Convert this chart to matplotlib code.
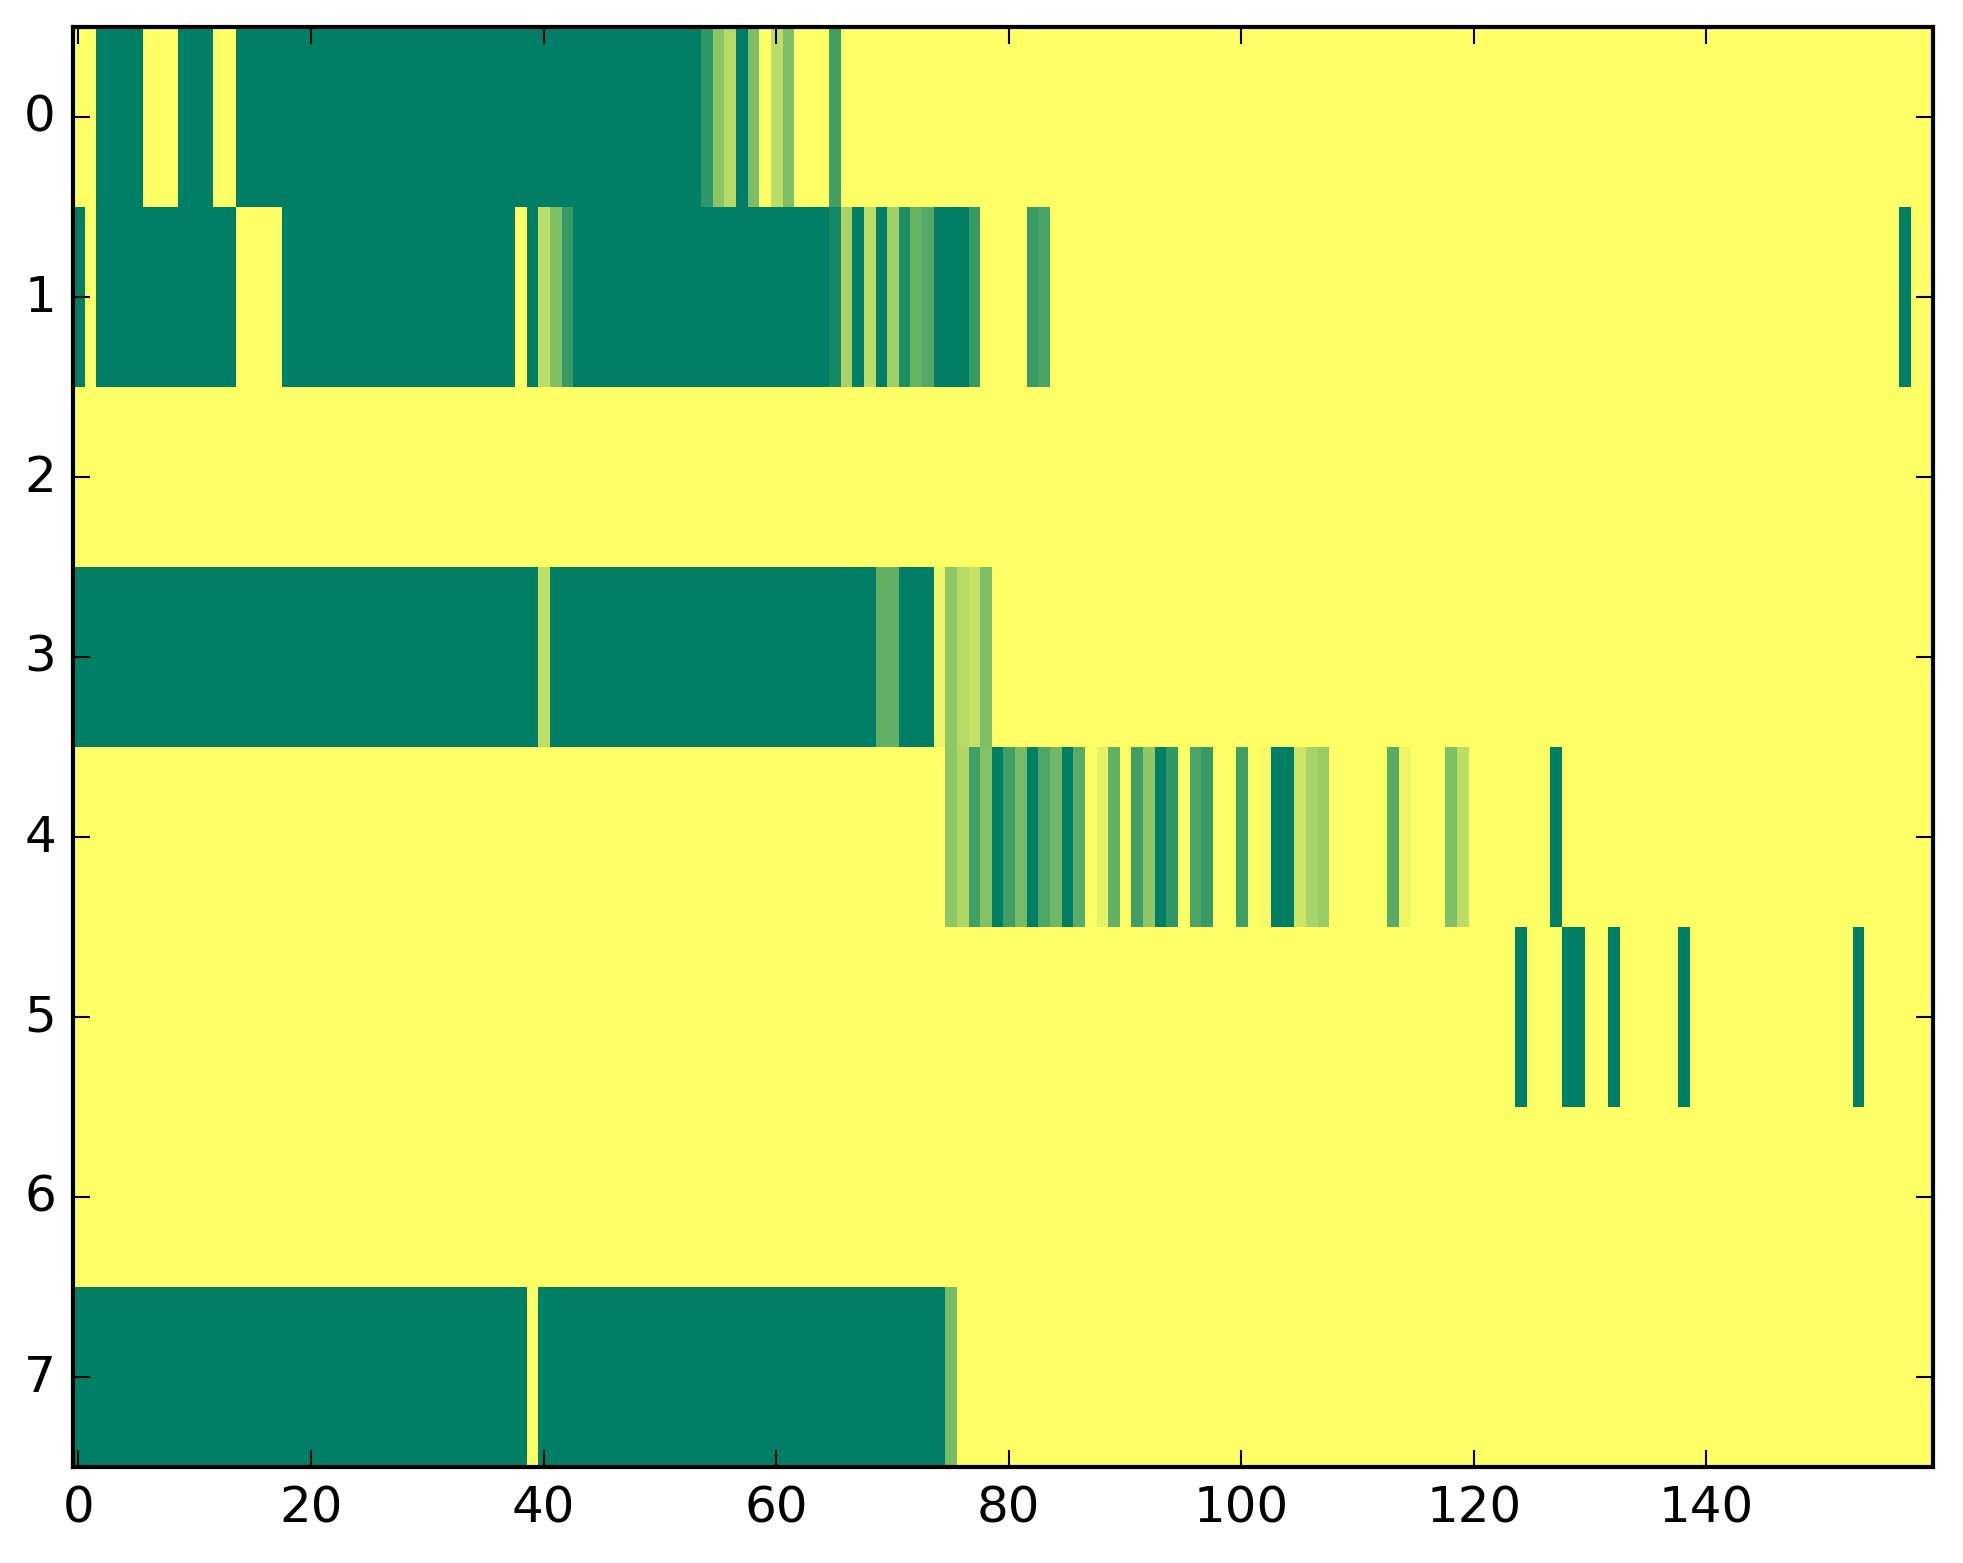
import numpy as np
import matplotlib
matplotlib.use("Agg")
import matplotlib.pyplot as plt

plt.style.use('classic')
plt.rcParams['font.size'] = 12

ncols = 160
# each row: runs of (start, stop, value), everything else is 0
row0 = [(2, 6, 1.0), (9, 12, 1.0), (14, 54, 1.0), (54, 55, 0.81), (55, 56, 0.45),
        (56, 57, 0.29), (57, 58, 1.0), (58, 59, 0.51), (60, 61, 0.26), (61, 62, 0.5),
        (65, 66, 0.75)]
row1 = [(0, 1, 1.0), (2, 14, 1.0), (18, 38, 1.0), (39, 40, 1.0), (40, 41, 0.26),
        (41, 42, 0.5), (42, 43, 0.78), (43, 65, 1.0), (65, 66, 0.92), (66, 67, 0.34),
        (67, 68, 1.0), (68, 69, 0.26), (69, 70, 1.0), (70, 71, 0.37), (71, 72, 0.89),
        (72, 73, 0.59), (73, 74, 0.67), (74, 77, 1.0), (77, 78, 0.78), (82, 83, 0.78),
        (83, 84, 0.72), (157, 158, 1.0)]
row2 = []
row3 = [(0, 40, 1.0), (40, 41, 0.25), (41, 69, 1.0), (69, 71, 0.62), (71, 74, 1.0),
        (74, 75, 0.07), (75, 76, 0.44), (76, 77, 0.29), (77, 78, 0.23), (78, 79, 0.51)]
row4 = [(75, 76, 0.44), (76, 77, 0.31), (77, 78, 0.75), (78, 79, 0.48), (79, 80, 1.0),
        (80, 81, 0.75), (81, 82, 0.53), (82, 83, 1.0), (83, 84, 0.69), (84, 85, 0.56),
        (85, 86, 1.0), (86, 87, 0.65), (88, 89, 0.1), (89, 90, 0.62), (91, 92, 0.75),
        (92, 93, 0.44), (93, 94, 1.0), (94, 95, 0.81), (96, 97, 0.7), (97, 98, 0.78),
        (100, 101, 0.75), (102, 103, 0.04), (103, 105, 1.0), (105, 106, 0.2),
        (106, 107, 0.34), (107, 108, 0.41), (113, 114, 0.65), (114, 115, 0.07),
        (118, 119, 0.5), (119, 120, 0.26), (127, 128, 1.0)]
row5 = [(124, 125, 1.0), (128, 130, 1.0), (132, 133, 1.0), (138, 139, 1.0), (153, 154, 1.0)]
row6 = []
row7 = [(0, 39, 1.0), (40, 75, 1.0), (75, 76, 0.53)]

rows = [row0, row1, row2, row3, row4, row5, row6, row7]

data = np.zeros((len(rows), ncols))
for i, runs in enumerate(rows):
    for start, stop, v in runs:
        data[i, start:stop] = v

fig = plt.figure(figsize=(1963 / 300, 1564 / 300), dpi=300)
ax = fig.add_axes([0.037, 0.0614, 0.9477, 0.9207])
ax.imshow(data, cmap='summer_r', vmin=0, vmax=1, aspect='auto', interpolation='nearest')
ax.set_xticks(range(0, 141, 20))
ax.set_yticks(range(len(rows)))

fig.savefig('out.png', dpi=300)
